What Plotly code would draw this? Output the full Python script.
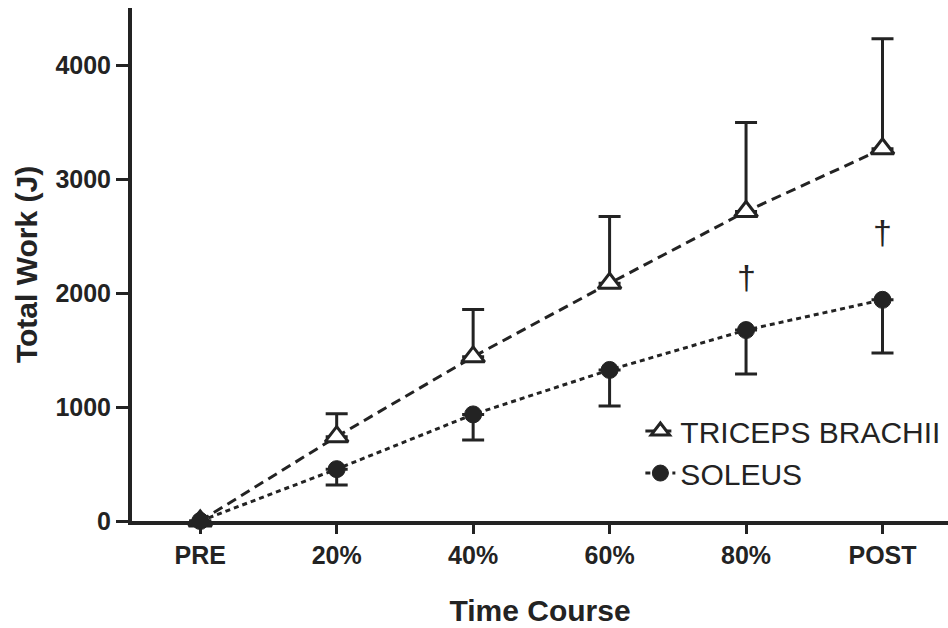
import plotly.graph_objects as go

# Time points and measured total work (J)
time_points = ["PRE", "20%", "40%", "60%", "80%", "POST"]
triceps_mean = [0, 740, 1440, 2085, 2715, 3265]
triceps_sd = [0, 200, 415, 585, 780, 965]
soleus_mean = [0, 455, 935, 1325, 1675, 1940]
soleus_sd = [0, 139, 224, 316, 385, 466]

# Significance markers (dagger) placed between the two series
dagger_points = ["80%", "POST"]
dagger_y = [2140, 2535]

ink = "#232323"
font_family = "Liberation Sans, Arial, sans-serif"
xpos = list(range(len(time_points)))

fig = go.Figure()

fig.add_trace(go.Scatter(
    x=xpos, y=triceps_mean, name="TRICEPS BRACHII",
    mode="lines+markers", cliponaxis=False,
    line=dict(color=ink, width=3, dash="10px,6px"),
    marker=dict(symbol="triangle-up", size=20, color="white",
                line=dict(color=ink, width=3)),
    error_y=dict(type="data", symmetric=False, array=triceps_sd,
                 arrayminus=[0] * len(triceps_sd),
                 color=ink, thickness=3, width=11),
))

fig.add_trace(go.Scatter(
    x=xpos, y=soleus_mean, name="SOLEUS",
    mode="lines+markers", cliponaxis=False,
    line=dict(color=ink, width=3, dash="5px,4px"),
    marker=dict(symbol="circle", size=17, color=ink,
                line=dict(color=ink, width=1)),
    error_y=dict(type="data", symmetric=False, array=[0] * len(soleus_sd),
                 arrayminus=soleus_sd,
                 color=ink, thickness=3, width=11),
))

for lbl, yv in zip(dagger_points, dagger_y):
    fig.add_annotation(
        x=time_points.index(lbl), y=yv, text="†", showarrow=False,
        xanchor="center", yanchor="middle",
        font=dict(family=font_family, size=34, color=ink),
    )

fig.update_layout(
    width=948, height=628,
    margin=dict(l=132, r=0, t=8, b=107),
    paper_bgcolor="white", plot_bgcolor="white",
    showlegend=True,
    legend=dict(
        x=0.623, y=0.226, xanchor="left", yanchor="top",
        bgcolor="rgba(0,0,0,0)",
        font=dict(family=font_family, size=30, color=ink),
        tracegroupgap=0,
    ),
)

fig.update_xaxes(
    range=[-0.5, 5.48],
    tickmode="array", tickvals=xpos, ticktext=time_points,
    showline=True, linecolor=ink, linewidth=4,
    ticks="outside", ticklen=9, tickwidth=3, tickcolor=ink,
    showgrid=False, zeroline=False,
    tickfont=dict(family=font_family, size=25, color=ink, weight="bold"),
    title=dict(text="Time Course", standoff=33,
               font=dict(family=font_family, size=30, color=ink, weight="bold")),
)

fig.update_yaxes(
    range=[0, 4500],
    tickmode="array", tickvals=[0, 1000, 2000, 3000, 4000],
    showline=True, linecolor=ink, linewidth=4,
    ticks="outside", ticklen=12, tickwidth=3, tickcolor=ink,
    showgrid=False, zeroline=False,
    tickfont=dict(family=font_family, size=25, color=ink, weight="bold"),
    title=dict(text="Total Work (J)", standoff=10,
               font=dict(family=font_family, size=30, color=ink, weight="bold")),
)

fig.write_html("out.html")
